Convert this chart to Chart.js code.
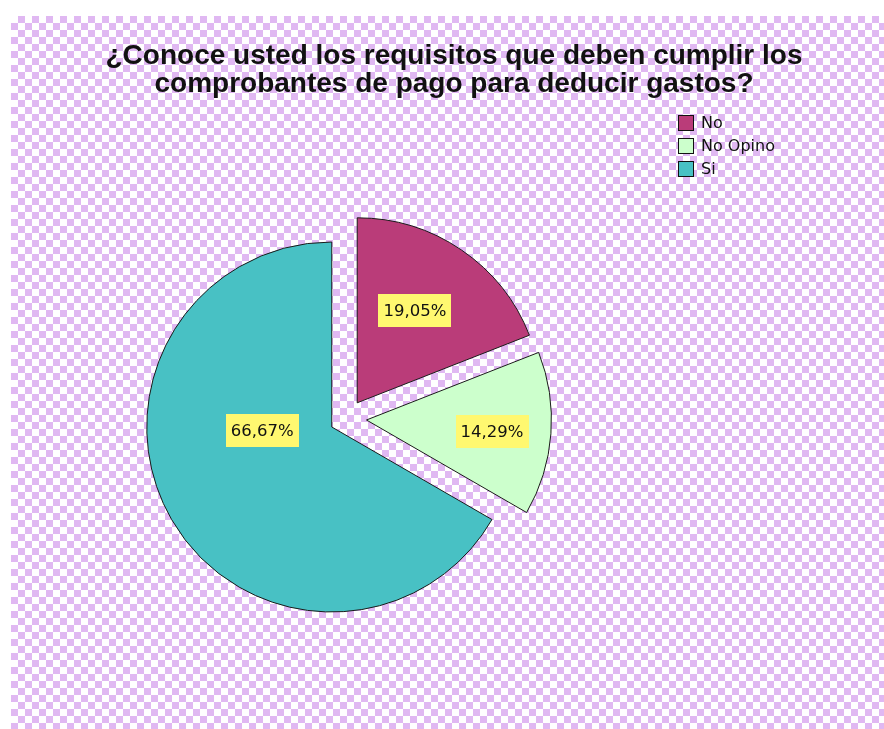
<!DOCTYPE html>
<html>
<head>
<meta charset="utf-8">
<script src="https://cdn.jsdelivr.net/npm/chart.js@4.4.1/dist/chart.umd.min.js"></script>
<style>
  html, body { margin: 0; padding: 0; background: #ffffff; }
  #wrap { position: relative; width: 884px; height: 729px; overflow: hidden; }
  #bg {
    position: absolute; left: 11px; top: 16px; right: 0; bottom: 0;
    background-color: #ffffff;
    background-image: conic-gradient(#e0b8f2 25%, #ffffff 0 50%, #e0b8f2 0 75%, #ffffff 0);
    background-size: 14px 14px;
  }
  #c { position: absolute; left: 0; top: 0; }
  #title {
    position: absolute; left: 0; width: 908px; top: 41px; text-align: center;
    font-family: "Liberation Sans", Arial, sans-serif; font-weight: bold; font-size: 28px;
    line-height: 28px; color: #111;
  }
  #legend { position: absolute; left: 678px; top: 111px; font-family: "DejaVu Sans", sans-serif; font-size: 16px; color: #111; }
  .li { height: 23px; display: flex; align-items: center; }
  .sw { width: 14px; height: 14px; border: 1.5px solid #111; margin-right: 7px; }
</style>
</head>
<body>
<div id="wrap">
  <div id="bg"></div>
  <canvas id="c" width="884" height="729"></canvas>
  <div id="title">¿Conoce usted los requisitos que deben cumplir los<br>comprobantes de pago para deducir gastos?</div>
  <div id="legend"></div>
</div>
<script>
const categories = ["No", "No Opino", "Si"];
const percentages = [19.05, 14.29, 66.67];
const percentLabels = ["19,05%", "14,29%", "66,67%"];
const sliceColors = ["#ba3c79", "#ccffcc", "#48c1c4"];

// label placement: [fraction of radius, angle (deg, clockwise from top)]
const labelPolar = [[0.69, 32.4], [0.79, 95.1], [0.46, 262]];
const sliceOffsets = [76, 80, 68];

// HTML legend
const leg = document.getElementById('legend');
categories.forEach((c, i) => {
  const row = document.createElement('div');
  row.className = 'li';
  const sw = document.createElement('div');
  sw.className = 'sw';
  sw.style.background = sliceColors[i];
  const t = document.createElement('span');
  t.textContent = c;
  row.appendChild(sw); row.appendChild(t);
  leg.appendChild(row);
});

// keep every exploded slice at the same radius and full angle
// (Chart.js enlarges wide slices and trims their angle when offset)
const equalRadiusPlugin = {
  id: 'equalRadius',
  afterDatasetUpdate(chart, args) {
    args.meta.data.forEach((arc) => {
      const t = (arc.options.offset || 0) / 4;
      const fix = 1 - Math.sin(Math.min(Math.PI, arc.circumference || 0));
      const off = t * fix;
      const R0 = arc.outerRadius;
      arc.outerRadius = R0 - off;
      const dA = off / (2 * Math.PI * R0);
      arc.startAngle -= dA;
      arc.endAngle += dA;
    });
  }
};

const labelPlugin = {
  id: 'pctLabels',
  afterDatasetsDraw(chart) {
    const ctx = chart.ctx;
    const meta = chart.getDatasetMeta(0);
    ctx.save();
    ctx.font = '16.5px "DejaVu Sans", sans-serif';
    ctx.textAlign = 'center';
    ctx.textBaseline = 'middle';
    meta.data.forEach((arc, i) => {
      const cx = arc.x, cy = arc.y;
      const r0 = (Math.min(chart.chartArea.width, chart.chartArea.height) - 81) / 2;
      const [f, deg] = labelPolar[i];
      const a = deg * Math.PI / 180;
      const x = cx + f * r0 * Math.sin(a);
      const y = cy - f * r0 * Math.cos(a);
      const txt = percentLabels[i];
      const w = ctx.measureText(txt).width + 10;
      const h = 33;
      ctx.fillStyle = '#fff870';
      ctx.fillRect(Math.round(x - w / 2), Math.round(y - h / 2), Math.round(w), h);
      ctx.fillStyle = '#111';
      ctx.fillText(txt, x, y + 1);
    });
    ctx.restore();
  }
};

new Chart(document.getElementById('c'), {
  type: 'pie',
  data: {
    labels: categories,
    datasets: [{
      data: percentages,
      backgroundColor: sliceColors,
      borderColor: '#1a1a1a',
      borderWidth: 1,
      offset: sliceOffsets,
      borderJoinStyle: 'miter'
    }]
  },
  options: {
    responsive: false,
    animation: false,
    layout: { padding: { left: 121, top: 193, right: 312, bottom: 85 } },
    plugins: {
      legend: { display: false },
      title: { display: false },
      tooltip: { enabled: false }
    }
  },
  plugins: [equalRadiusPlugin, labelPlugin]
});
</script>
</body>
</html>
